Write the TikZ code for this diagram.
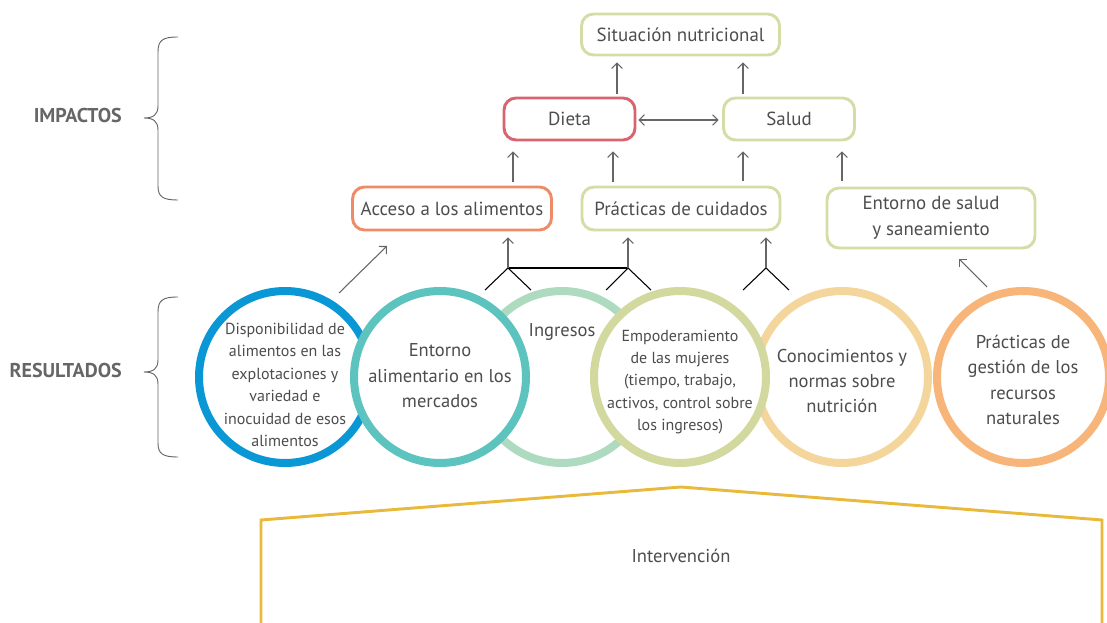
\documentclass[tikz,border=0pt]{standalone}
\usepackage{fontspec}
\setmainfont{PT Sans}
\usetikzlibrary{arrows.meta,calc}
\definecolor{txt}{HTML}{4D4D4D}
\definecolor{lblgray}{HTML}{666666}
\definecolor{arrgray}{HTML}{666666}
\definecolor{boxolive}{HTML}{D5DCA6}
\definecolor{boxred}{HTML}{D9636E}
\definecolor{boxorange}{HTML}{EF8B66}
\definecolor{cblue}{HTML}{0A97D5}
\definecolor{cteal}{HTML}{5CC3BE}
\definecolor{cgreen}{HTML}{AEDBBF}
\definecolor{colive}{HTML}{D3D89E}
\definecolor{cpeach}{HTML}{F4D59B}
\definecolor{corange}{HTML}{F8B57A}
\definecolor{gold}{HTML}{E8B93A}
\begin{document}
\begin{tikzpicture}[x=0.75pt,y=-0.75pt,
 lbl/.style={text=lblgray, font=\bfseries\fontsize{15}{17}\selectfont, anchor=east, inner sep=0pt},
 box/.style={draw, rounded corners=9pt, line width=2.2pt, inner sep=0pt, align=center, text=txt, font=\fontsize{14.2}{19.5}\selectfont},
 ring/.style={circle, draw, fill=white, line width=6pt, minimum size=129pt, inner sep=0pt},
 arr/.style={draw=arrgray, line width=0.8pt, -{Straight Barb[length=4pt,width=8pt]}},
 darr/.style={draw=arrgray, line width=0.8pt, {Straight Barb[length=4pt,width=8pt]}-{Straight Barb[length=4pt,width=8pt]}},
 fork/.style={draw=black, line width=0.8pt},
 bracestyle/.style={draw=lblgray, line width=0.7pt},
 bigtxt/.style={text=txt, align=center, inner sep=0pt, font=\fontsize{13.9}{19.1}\selectfont},
 smalltxt/.style={text=txt, align=center, inner sep=0pt, font=\fontsize{12}{16.8}\selectfont},
]
\useasboundingbox (0,0) rectangle (1107,623);

% x positions for vertical connectors
\coordinate (x508) at (508,0);
\coordinate (x513) at (513,0);
\coordinate (x613) at (613,0);
\coordinate (x617) at (617,0);
\coordinate (x628) at (628,0);
\coordinate (x743) at (743,0);
\coordinate (x766) at (766,0);
\coordinate (x842) at (842,0);
\coordinate (y120) at (0,120);

% boxes
\node[box, draw=boxolive, minimum width=148.5pt, minimum height=30.75pt] (sit) at (680.5,34.5) {Situación nutricional};
\node[box, draw=boxred, minimum width=98.25pt, minimum height=31.5pt] (dieta) at (569.5,119) {Dieta};
\node[box, draw=boxolive, minimum width=98.25pt, minimum height=31.5pt] (salud) at (789,119) {Salud};
\node[box, draw=boxorange, minimum width=149.25pt, minimum height=32.25pt] (acceso) at (452,208.5) {Acceso a los alimentos};
\node[box, draw=boxolive, minimum width=148.5pt, minimum height=32.25pt] (prac) at (681,208.5) {Prácticas de cuidados};
\node[box, draw=boxolive, minimum width=156pt, minimum height=45pt] (entorno) at (931,218) {Entorno de salud\\y saneamiento};

% arrows between boxes
\draw[arr, shorten <=2.2pt, shorten >=4.5pt] (dieta.north -| x617) -- (sit.south -| x617);
\draw[arr, shorten <=2.2pt, shorten >=4.5pt] (salud.north -| x743) -- (sit.south -| x743);
\draw[darr, shorten <=1.5pt, shorten >=2.5pt] (dieta.east |- y120) -- (salud.west |- y120);
\draw[arr, shorten <=3pt, shorten >=7.5pt] (acceso.north -| x513) -- (dieta.south -| x513);
\draw[arr, shorten <=3pt, shorten >=7.5pt] (prac.north -| x613) -- (dieta.south -| x613);
\draw[arr, shorten <=3.5pt, shorten >=7.5pt] (prac.north -| x743) -- (salud.south -| x743);
\draw[arr, shorten <=4.5pt, shorten >=7.5pt] (entorno.north -| x842) -- (salud.south -| x842);

% forks
\coordinate (f1) at (508,268);
\coordinate (f2) at (628,268);
\coordinate (f3) at (766,268);
\draw[fork] (485,290) -- (f1) -- (531,290);
\draw[fork] (f1) -- (f2);
\draw[fork] (606,290) -- (f2) -- (651,290);
\draw[fork] (743,290) -- (f3) -- (789,290);
\draw[arr, shorten >=4.5pt] (f1) -- (acceso.south -| x508);
\draw[arr, shorten >=4.5pt] (f2) -- (prac.south -| x628);
\draw[arr, shorten >=4.5pt] (f3) -- (prac.south -| x766);

% diagonal arrows
\coordinate (d1s) at (339,293);
\coordinate (d1e) at (387,246);
\coordinate (d2s) at (987,287);
\coordinate (d2e) at (959,259);
\draw[arr] (d1s) -- (d1e);
\draw[arr] (d2s) -- (d2e);

% circles (order gives overlaps)
\node[ring, draw=cblue] (c1) at (285,377) {};
\node[ring, draw=cgreen] (c3) at (562,377) {};
\node[ring, draw=cpeach] (c5) at (842,377) {};
\node[ring, draw=corange] (c6) at (1023,377) {};
\node[ring, draw=cteal] (c2) at (440,377) {};
\node[ring, draw=colive] (c4) at (680,377) {};

\node[smalltxt] (t1) at (285,385) {Disponibilidad de\\alimentos en las\\explotaciones y\\variedad e\\inocuidad de esos\\alimentos};
\node[bigtxt] (t2) at (440,376) {Entorno\\alimentario en los\\mercados};
\node[bigtxt] (t3) at (562,332) {Ingresos};
\node[smalltxt] (t4) at (680,382) {Empoderamiento\\de las mujeres\\(tiempo, trabajo,\\activos, control sobre\\los ingresos)};
\node[bigtxt] (t5) at (842,381) {Conocimientos y\\normas sobre\\nutrición};
\node[bigtxt] (t6) at (1023,380) {Prácticas de\\gestión de los\\recursos\\naturales};

% braces and labels
\draw[bracestyle] (178,37) .. controls (163,37) and (158,40) .. (158,52) -- (158,106)
  .. controls (158,115) and (153,118) .. (144,118)
  .. controls (153,118) and (158,121) .. (158,130) -- (158,186)
  .. controls (158,197) and (163,200) .. (178,200);
\draw[bracestyle] (178,297) .. controls (163,297) and (158,300) .. (158,312) -- (158,360)
  .. controls (158,369) and (153,372) .. (144,372)
  .. controls (153,372) and (158,375) .. (158,384) -- (158,443)
  .. controls (158,454) and (163,457) .. (178,457);
\node[lbl] (imp) at (122,116) {IMPACTOS};
\node[lbl] (res) at (122,371) {RESULTADOS};

% intervention
\draw[gold, line width=2.2pt] (261,630) -- (261,520) -- (681,487) -- (1102,520) -- (1102,630);
\node[bigtxt] (int) at (681,556) {Intervención};
\end{tikzpicture}
\end{document}
